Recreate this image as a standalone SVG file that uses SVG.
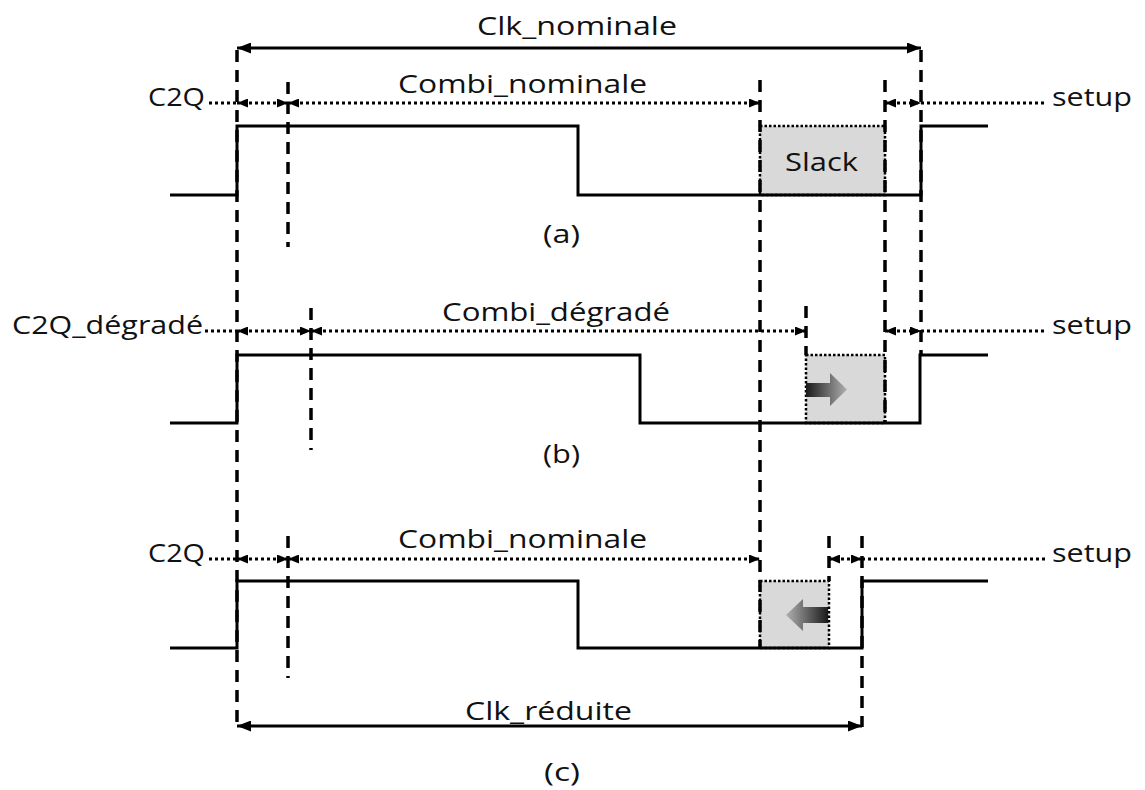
<svg xmlns="http://www.w3.org/2000/svg" width="1145" height="790" viewBox="0 0 1145 790">
<style>
.t{font-family:"Open Sans","Liberation Sans",sans-serif;font-size:25px;fill:#111}
.wave{fill:none;stroke:#000;stroke-width:3;stroke-linejoin:miter}
.dash{fill:none;stroke:#000;stroke-width:3.5;stroke-dasharray:12 8}
.dot{fill:none;stroke:#000;stroke-width:3;stroke-dasharray:3 3}
.solid{fill:none;stroke:#000;stroke-width:3}
.box{fill:#d9d9d9;stroke:#000;stroke-width:2.5;stroke-dasharray:2.5 2}
</style>
<defs>
<marker id="ah" markerUnits="userSpaceOnUse" markerWidth="11" markerHeight="9" refX="11" refY="4.5" orient="auto-start-reverse"><path d="M0,0 L11,4.5 L0,9 z" fill="#000"/></marker>
<marker id="ahb" markerUnits="userSpaceOnUse" markerWidth="14" markerHeight="11" refX="14" refY="5.5" orient="auto-start-reverse"><path d="M0,0 L14,5.5 L0,11 z" fill="#000"/></marker>
<linearGradient id="gR" x1="0" y1="0" x2="1" y2="0"><stop offset="0" stop-color="#1a1a1a"/><stop offset="1" stop-color="#b0b0b0"/></linearGradient>
<linearGradient id="gL" x1="1" y1="0" x2="0" y2="0"><stop offset="0" stop-color="#1a1a1a"/><stop offset="1" stop-color="#b0b0b0"/></linearGradient>
</defs>

<g id="boxes">
<g id="slack-a"><rect class="box" x="760" y="126" width="125" height="69"/><text class="t" x="785" y="171" textLength="73" lengthAdjust="spacingAndGlyphs">Slack</text></g>
<g id="slack-b"><rect class="box" x="806" y="355" width="79" height="68"/><path d="M806,383 L830,383 L830,373 L847,389.5 L830,406 L830,397 L806,397 z" fill="url(#gR)"/></g>
<g id="slack-c"><rect class="box" x="760" y="581" width="69" height="67"/><path d="M828,607 L803,607 L803,599 L786,615 L803,631 L803,623 L828,623 z" fill="url(#gL)"/></g>
</g>

<g id="waveforms">
<g id="wave-a"><path class="wave" d="M170,195 H237 V126 H578 V195 H921 V126 H988"/></g>
<g id="wave-b"><path class="wave" d="M170,423 H237 V355 H640 V423 H920 V355 H988"/></g>
<g id="wave-c"><path class="wave" d="M170,648 H237 V581 H578 V648 H862 V581 H988"/></g>
</g>

<g id="connectors">
<line class="dash" x1="237" y1="50" x2="237" y2="727"/>
<line class="dash" x1="921" y1="50" x2="921" y2="355"/>
<line class="dash" x1="760" y1="80" x2="760" y2="648"/>
<line class="dash" x1="885" y1="80" x2="885" y2="423"/>
<line class="dash" x1="288" y1="82" x2="288" y2="247"/>
<line class="dash" x1="311" y1="308" x2="311" y2="450"/>
<line class="dash" x1="806" y1="306" x2="806" y2="355"/>
<line class="dash" x1="288" y1="536" x2="288" y2="678"/>
<line class="dash" x1="829" y1="536" x2="829" y2="581"/>
<line class="dash" x1="862" y1="536" x2="862" y2="727"/>

<line class="solid" x1="237" y1="48" x2="921" y2="48" marker-start="url(#ahb)" marker-end="url(#ahb)"/>
<line class="solid" x1="237" y1="726" x2="862" y2="726" marker-start="url(#ahb)" marker-end="url(#ahb)"/>

<line class="dot" x1="209" y1="103" x2="237" y2="103"/>
<line class="dot" x1="237" y1="103" x2="288" y2="103" marker-start="url(#ah)" marker-end="url(#ah)"/>
<line class="dot" x1="288" y1="103" x2="760" y2="103" marker-start="url(#ah)" marker-end="url(#ah)"/>
<line class="dot" x1="885" y1="103" x2="921" y2="103" marker-start="url(#ah)" marker-end="url(#ah)"/>
<line class="dot" x1="921" y1="103" x2="1046" y2="103"/>

<line class="dot" x1="205" y1="331" x2="237" y2="331"/>
<line class="dot" x1="237" y1="331" x2="311" y2="331" marker-start="url(#ah)" marker-end="url(#ah)"/>
<line class="dot" x1="311" y1="331" x2="806" y2="331" marker-start="url(#ah)" marker-end="url(#ah)"/>
<line class="dot" x1="885" y1="331" x2="921" y2="331" marker-start="url(#ah)" marker-end="url(#ah)"/>
<line class="dot" x1="921" y1="331" x2="1046" y2="331"/>

<line class="dot" x1="209" y1="559" x2="237" y2="559"/>
<line class="dot" x1="237" y1="559" x2="288" y2="559" marker-start="url(#ah)" marker-end="url(#ah)"/>
<line class="dot" x1="288" y1="559" x2="760" y2="559" marker-start="url(#ah)" marker-end="url(#ah)"/>
<line class="dot" x1="829" y1="559" x2="862" y2="559" marker-start="url(#ah)" marker-end="url(#ah)"/>
<line class="dot" x1="862" y1="559" x2="1046" y2="559"/>
</g>

<g id="labels">
<text class="t" x="477" y="35" textLength="200" lengthAdjust="spacingAndGlyphs">Clk_nominale</text>
<text class="t" x="148" y="106" textLength="57" lengthAdjust="spacingAndGlyphs">C2Q</text>
<text class="t" x="398" y="93" textLength="249" lengthAdjust="spacingAndGlyphs">Combi_nominale</text>
<text class="t" x="1052" y="106" textLength="80" lengthAdjust="spacingAndGlyphs">setup</text>
<text class="t" x="543" y="243" textLength="37" lengthAdjust="spacingAndGlyphs">(a)</text>

<text class="t" x="12" y="334" textLength="191" lengthAdjust="spacingAndGlyphs">C2Q_dégradé</text>
<text class="t" x="442" y="321" textLength="228" lengthAdjust="spacingAndGlyphs">Combi_dégradé</text>
<text class="t" x="1052" y="334" textLength="80" lengthAdjust="spacingAndGlyphs">setup</text>
<text class="t" x="543" y="463" textLength="37" lengthAdjust="spacingAndGlyphs">(b)</text>

<text class="t" x="148" y="562" textLength="57" lengthAdjust="spacingAndGlyphs">C2Q</text>
<text class="t" x="398" y="548" textLength="249" lengthAdjust="spacingAndGlyphs">Combi_nominale</text>
<text class="t" x="1052" y="562" textLength="80" lengthAdjust="spacingAndGlyphs">setup</text>
<text class="t" x="465" y="720" textLength="167" lengthAdjust="spacingAndGlyphs">Clk_réduite</text>
<text class="t" x="544" y="781" textLength="36" lengthAdjust="spacingAndGlyphs">(c)</text>
</g>
</svg>
